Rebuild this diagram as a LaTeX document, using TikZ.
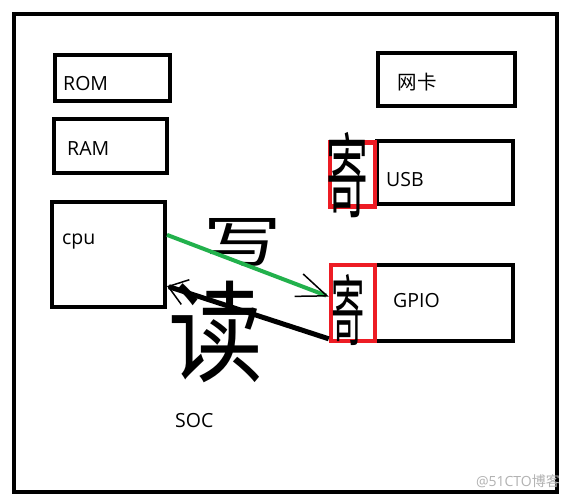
\documentclass[tikz,border=0pt]{standalone}
\usepackage{fontspec}
\setmainfont{Open Sans}
\newfontfamily\cjk{Noto Sans CJK SC}
\usetikzlibrary{arrows.meta,calc}
\definecolor{paintred}{HTML}{ED1C24}
\definecolor{paintgreen}{HTML}{22B14C}

\begin{document}
\begin{tikzpicture}[x=1pt,y=-1pt,
box/.style={draw, line width=4pt, inner sep=0pt},
regbox/.style={draw=paintred, line width=4.5pt, inner sep=0pt},
lbl/.style={inner sep=0pt, anchor=base west, font=\fontsize{19.5}{20}\selectfont},
hand/.style={inner sep=0pt, anchor=center, font=\cjk},
writeline/.style={paintgreen, line width=4pt, -{Straight Barb[color=black, line width=1.5pt, length=30pt, width=24pt]}},
readline/.style={black, line width=5pt, {Straight Barb[line width=1.5pt, length=18pt, width=26pt]}-}
]
\useasboundingbox (0,0) rectangle (574,502);
\fill[white] (0,0) rectangle (574,502);

% chip outline
\node[box, minimum width=543pt, minimum height=478pt] (soc) at (285.5,253) {};

% left column
\node[box, minimum width=115pt, minimum height=46pt] (rom) at (112.5,78) {};
\node[box, minimum width=113pt, minimum height=54pt] (ram) at (110.5,146) {};
\node[box, minimum width=113pt, minimum height=105pt] (cpu) at (108.5,254.5) {};

% right column
\node[box, minimum width=137pt, minimum height=53pt] (nic) at (446.5,79.5) {};
\node[box, minimum width=136pt, minimum height=63pt] (usb) at (445,172.5) {};
\node[box, minimum width=138pt, minimum height=76pt] (gpio) at (444,303) {};

% registers
\node[regbox, minimum width=45pt, minimum height=64pt] (usbreg) at (352.5,174.5) {};
\node[regbox, minimum width=44pt, minimum height=76pt] (gpioreg) at (353,303) {};

% labels
\node[lbl] (romtxt) at (63,91) {ROM};
\node[lbl] (ramtxt) at (67,156) {RAM};
\node[lbl] (cputxt) at (62,245) {cpu};
\node[inner sep=0pt, font=\cjk\fontsize{19.5}{20}\selectfont] (nictxt) at (417,82) {网卡};
\node[lbl] (usbtxt) at (386,187) {USB};
\node[lbl] (gpiotxt) at (393,308) {GPIO};
\node[lbl] (soctxt) at (175,428) {SOC};

% handwriting
\node[hand] (wrtxt) at (243,242) {\fontsize{56}{56}\selectfont\scalebox{1.4}[1]{写}};
\node[hand] (rdtxt) at (216,332) {\fontsize{100}{100}\selectfont\scalebox{0.95}[1.1]{读}};
\node[hand] (reg1txt) at (347,175) {\fontsize{44}{44}\selectfont\scalebox{0.95}[2.1]{寄}};
\node[hand] (reg2txt) at (348,310) {\fontsize{35}{35}\selectfont\scalebox{0.95}[2.2]{寄}};

% write and read paths
\draw[writeline] ($(cpu.north east)!0.32!(cpu.south east)$) -- ($(gpioreg.north west)!0.42!(gpioreg.south west)$);
\draw[readline] ($(cpu.north east)!0.79!(cpu.south east)$) -- ($(gpioreg.north west)!0.945!(gpioreg.south west)$);

% watermark
\node[inner sep=0pt, anchor=base east, text=black!30, font=\fontsize{14}{14}\selectfont] (mark) at (560,487) {@51CTO\cjk 博客};
\end{tikzpicture}
\end{document}
